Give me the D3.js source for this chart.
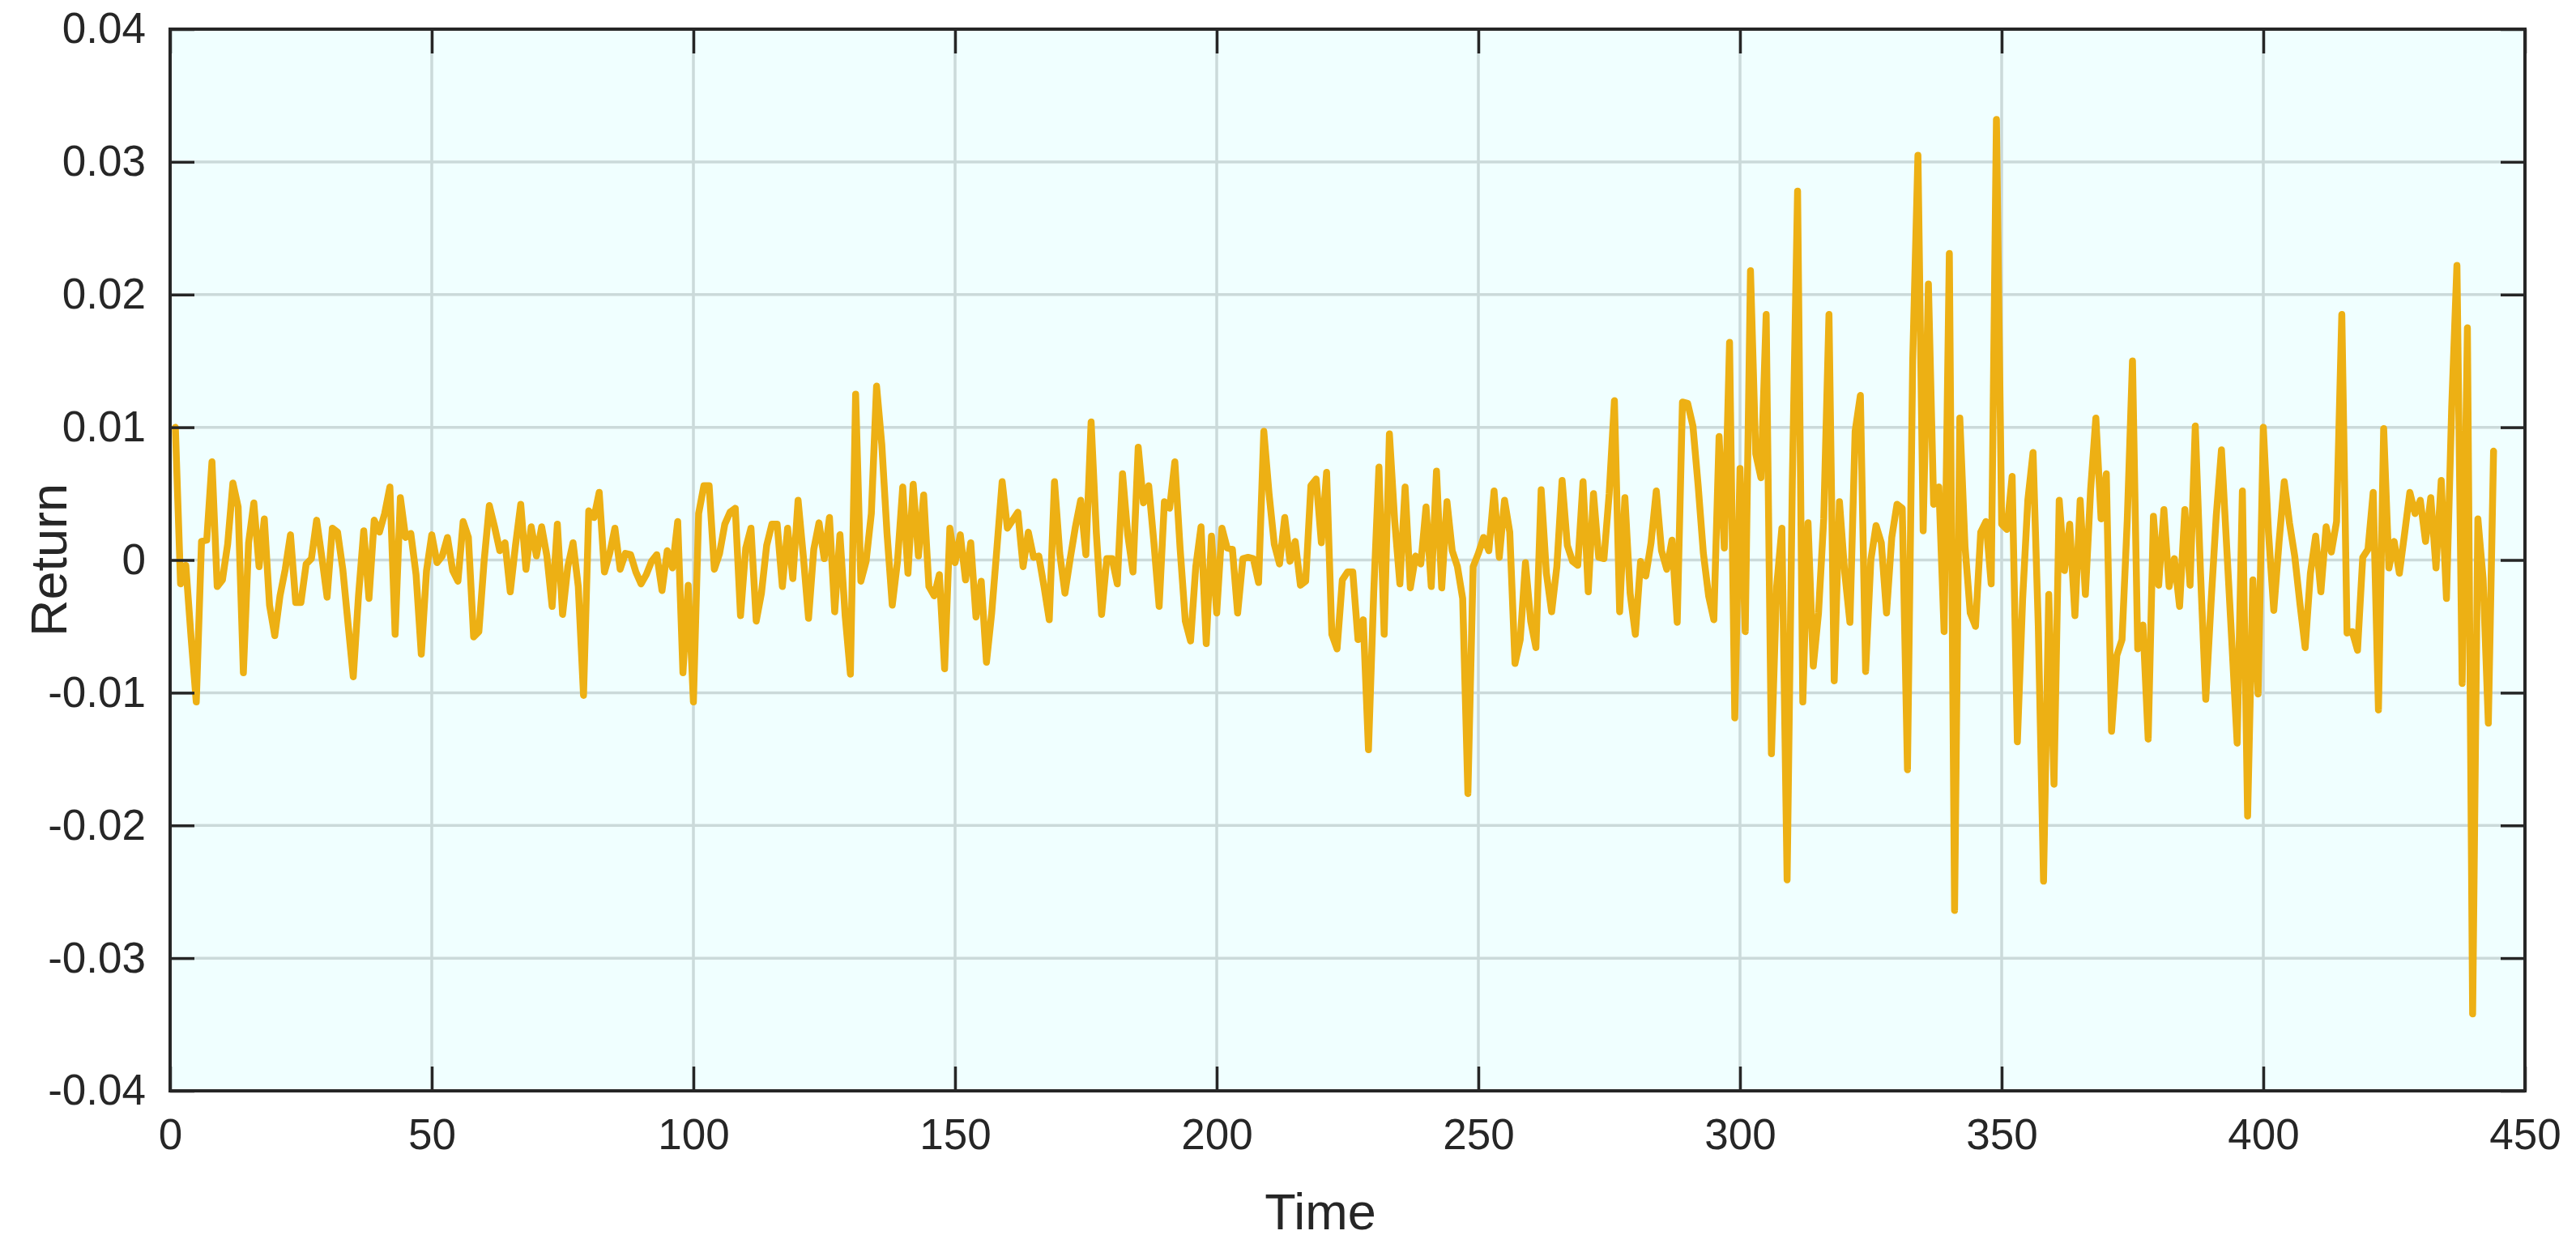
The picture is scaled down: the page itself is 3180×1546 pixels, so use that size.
<!DOCTYPE html>
<html><head><meta charset="utf-8">
<script src="https://cdn.jsdelivr.net/npm/d3@7/dist/d3.min.js"></script>
<style>html,body{margin:0;padding:0;background:#ffffff}svg{display:block}</style>
</head><body>
<svg id="chart" width="3180" height="1546"></svg>
<script>
// Return series, one value per time step (t = 1 .. 444)
const returns = [
 0.0100,-0.0018,-0.0004,-0.0058,-0.0107, 0.0014, 0.0015, 0.0074,-0.0020,-0.0015,
 0.0012, 0.0058, 0.0040,-0.0085, 0.0013, 0.0043,-0.0005, 0.0031,-0.0034,-0.0057,
-0.0027,-0.0007, 0.0019,-0.0032,-0.0032,-0.0003, 0.0001, 0.0030, 0.0002,-0.0028,
 0.0024, 0.0021,-0.0007,-0.0048,-0.0088,-0.0027, 0.0022,-0.0029, 0.0030, 0.0021,
 0.0035, 0.0055,-0.0056, 0.0047, 0.0017, 0.0020,-0.0011,-0.0071,-0.0008, 0.0019,
-0.0002, 0.0003, 0.0017,-0.0008,-0.0016, 0.0029, 0.0017,-0.0058,-0.0054,-0.0001,
 0.0041, 0.0025, 0.0007, 0.0013,-0.0024, 0.0011, 0.0042,-0.0007, 0.0025, 0.0003,
 0.0025, 0.0003,-0.0035, 0.0027,-0.0041,-0.0005, 0.0013,-0.0020,-0.0102, 0.0037,
 0.0032, 0.0051,-0.0009, 0.0005, 0.0024,-0.0007, 0.0005, 0.0004,-0.0009,-0.0018,
-0.0011,-0.0001, 0.0004,-0.0023, 0.0007,-0.0006, 0.0029,-0.0085,-0.0019,-0.0107,
 0.0035, 0.0056, 0.0056,-0.0007, 0.0005, 0.0027, 0.0036, 0.0039,-0.0042, 0.0009,
 0.0024,-0.0046,-0.0025, 0.0011, 0.0027, 0.0027,-0.0020, 0.0024,-0.0014, 0.0045,
 0.0003,-0.0044, 0.0008, 0.0028, 0.0001, 0.0032,-0.0039, 0.0019,-0.0042,-0.0086,
 0.0125,-0.0016,-0.0001, 0.0035, 0.0131, 0.0087, 0.0020,-0.0034,-0.0001, 0.0055,
-0.0010, 0.0057, 0.0003, 0.0049,-0.0020,-0.0027,-0.0011,-0.0082, 0.0024,-0.0002,
 0.0019,-0.0015, 0.0013,-0.0043,-0.0016,-0.0077,-0.0040, 0.0009, 0.0059, 0.0024,
 0.0030, 0.0036,-0.0005, 0.0021, 0.0002, 0.0003,-0.0020,-0.0045, 0.0059, 0.0005,
-0.0025, 0.0001, 0.0025, 0.0045, 0.0004, 0.0104, 0.0020,-0.0041, 0.0001, 0.0001,
-0.0018, 0.0065, 0.0019,-0.0009, 0.0085, 0.0043, 0.0056, 0.0013,-0.0035, 0.0044,
 0.0039, 0.0074, 0.0009,-0.0046,-0.0061,-0.0005, 0.0025,-0.0063, 0.0018,-0.0040,
 0.0024, 0.0009, 0.0008,-0.0040, 0.0001, 0.0002, 0.0001,-0.0017, 0.0097, 0.0050,
 0.0012,-0.0003, 0.0032,-0.0001, 0.0014,-0.0019,-0.0016, 0.0056, 0.0061, 0.0013,
 0.0066,-0.0056,-0.0067,-0.0015,-0.0009,-0.0009,-0.0060,-0.0045,-0.0143,-0.0025,
 0.0070,-0.0056, 0.0095, 0.0030,-0.0018, 0.0055,-0.0021, 0.0003,-0.0003, 0.0040,
-0.0020, 0.0067,-0.0021, 0.0044, 0.0007,-0.0005,-0.0029,-0.0176,-0.0005, 0.0005,
 0.0017, 0.0007, 0.0052, 0.0002, 0.0045, 0.0021,-0.0078,-0.0060,-0.0002,-0.0046,
-0.0066, 0.0053,-0.0010,-0.0039,-0.0005, 0.0060, 0.0011,-0.0001,-0.0004, 0.0059,
-0.0024, 0.0050, 0.0002, 0.0001, 0.0050, 0.0120,-0.0039, 0.0047,-0.0025,-0.0056,
-0.0001,-0.0012, 0.0013, 0.0052, 0.0007,-0.0007, 0.0015,-0.0047, 0.0119, 0.0118,
 0.0101, 0.0056, 0.0005,-0.0027,-0.0045, 0.0093, 0.0009, 0.0164,-0.0119, 0.0069,
-0.0054, 0.0218, 0.0080, 0.0062, 0.0185,-0.0146,-0.0020, 0.0024,-0.0241, 0.0060,
 0.0278,-0.0107, 0.0028,-0.0080,-0.0040, 0.0031, 0.0185,-0.0091, 0.0044,-0.0009,
-0.0047, 0.0097, 0.0124,-0.0084, 0.0000, 0.0026, 0.0013,-0.0040, 0.0017, 0.0042,
 0.0039,-0.0158, 0.0150, 0.0305, 0.0022, 0.0208, 0.0042, 0.0055,-0.0054, 0.0231,
-0.0264, 0.0107, 0.0010,-0.0040,-0.0050, 0.0021, 0.0029,-0.0018, 0.0332, 0.0027,
 0.0023, 0.0063,-0.0137,-0.0030, 0.0045, 0.0081,-0.0050,-0.0242,-0.0026,-0.0169,
 0.0045,-0.0008, 0.0027,-0.0042, 0.0045,-0.0026, 0.0053, 0.0107, 0.0031, 0.0065,
-0.0129,-0.0072,-0.0060, 0.0030, 0.0150,-0.0067,-0.0049,-0.0135, 0.0033,-0.0019,
 0.0038,-0.0020, 0.0001,-0.0035, 0.0038,-0.0019, 0.0101,-0.0010,-0.0105,-0.0033,
 0.0033, 0.0083, 0.0010,-0.0063,-0.0138, 0.0052,-0.0193,-0.0015,-0.0101, 0.0100,
 0.0020,-0.0038, 0.0013, 0.0059, 0.0028, 0.0003,-0.0033,-0.0066,-0.0010, 0.0018,
-0.0024, 0.0025, 0.0006, 0.0029, 0.0185,-0.0055,-0.0054,-0.0068, 0.0002, 0.0008,
 0.0051,-0.0113, 0.0099,-0.0006, 0.0014,-0.0010, 0.0020, 0.0051, 0.0035, 0.0045,
 0.0014, 0.0047,-0.0006, 0.0060,-0.0029, 0.0115, 0.0222,-0.0093, 0.0175,-0.0342,
 0.0031,-0.0014,-0.0123, 0.0082
];
const startTime = 1;
const xTicks = [0, 50, 100, 150, 200, 250, 300, 350, 400, 450];
const yTicks = [-0.04, -0.03, -0.02, -0.01, 0, 0.01, 0.02, 0.03, 0.04];
const yTickLabels = ["-0.04", "-0.03", "-0.02", "-0.01", "0", "0.01", "0.02", "0.03", "0.04"];
const xLabel = "Time";
const yLabel = "Return";

const W = 3180, H = 1546;
const m = {left: 210, right: 3117, top: 36, bottom: 1347};
const FONT = "'Liberation Sans', Arial, Helvetica, sans-serif";
const AXIS = "#262626";

const svg = d3.select("#chart");
const x = d3.scaleLinear().domain([0, 450]).range([m.left, m.right]);
const y = d3.scaleLinear().domain([-0.04, 0.04]).range([m.bottom, m.top]);

// plot background
svg.append("rect").attr("x", m.left).attr("y", m.top)
  .attr("width", m.right - m.left).attr("height", m.bottom - m.top)
  .attr("fill", "#F0FFFF");

// grid
const grid = svg.append("g").attr("stroke", "#CBDADA").attr("stroke-width", 3.5);
grid.selectAll("line.gx").data(xTicks.slice(1, -1)).join("line")
  .attr("x1", d => x(d)).attr("x2", d => x(d)).attr("y1", m.top).attr("y2", m.bottom);
grid.selectAll("line.gy").data(yTicks.slice(1, -1)).join("line")
  .attr("y1", d => y(d)).attr("y2", d => y(d)).attr("x1", m.left).attr("x2", m.right);

// data line
const line = d3.line().x((d, i) => x(startTime + i)).y(d => y(d));
svg.append("path").datum(returns)
  .attr("d", line).attr("fill", "none")
  .attr("stroke", "#EDB014").attr("stroke-width", 8.5)
  .attr("stroke-linejoin", "round").attr("stroke-linecap", "round");

// axes with inward ticks, mirrored on top/right
const tickLen = 30;
const gB = svg.append("g").attr("transform", `translate(0,${m.bottom})`)
  .call(d3.axisBottom(x).tickValues(xTicks).tickSize(-tickLen).tickPadding(34).tickFormat(d3.format("d")));
const gT = svg.append("g").attr("transform", `translate(0,${m.top})`)
  .call(d3.axisTop(x).tickValues(xTicks).tickSize(-tickLen).tickFormat(""));
const gL = svg.append("g").attr("transform", `translate(${m.left},0)`)
  .call(d3.axisLeft(y).tickValues(yTicks).tickSize(-tickLen).tickPadding(30)
    .tickFormat((d, i) => yTickLabels[i]));
const gR = svg.append("g").attr("transform", `translate(${m.right},0)`)
  .call(d3.axisRight(y).tickValues(yTicks).tickSize(-tickLen).tickFormat(""));

[gB, gT, gL, gR].forEach(g => {
  g.select(".domain").remove();
  g.selectAll(".tick line").attr("stroke", AXIS).attr("stroke-width", 3.5);
  g.selectAll(".tick text").attr("fill", AXIS).style("font-family", FONT).style("font-size", "53px");
});
gB.selectAll(".tick text").attr("dy", "0.71em");

// box
svg.append("rect").attr("x", m.left).attr("y", m.top)
  .attr("width", m.right - m.left).attr("height", m.bottom - m.top)
  .attr("fill", "none").attr("stroke", AXIS).attr("stroke-width", 4);

// labels
svg.append("text").attr("x", 1630).attr("y", 1518)
  .attr("text-anchor", "middle").attr("fill", AXIS)
  .style("font-family", FONT).style("font-size", "63px").text(xLabel);
svg.append("text").attr("transform", `translate(82,${(m.top + m.bottom) / 2}) rotate(-90)`)
  .attr("text-anchor", "middle").attr("fill", AXIS)
  .style("font-family", FONT).style("font-size", "63px").text(yLabel);
</script>
</body></html>
